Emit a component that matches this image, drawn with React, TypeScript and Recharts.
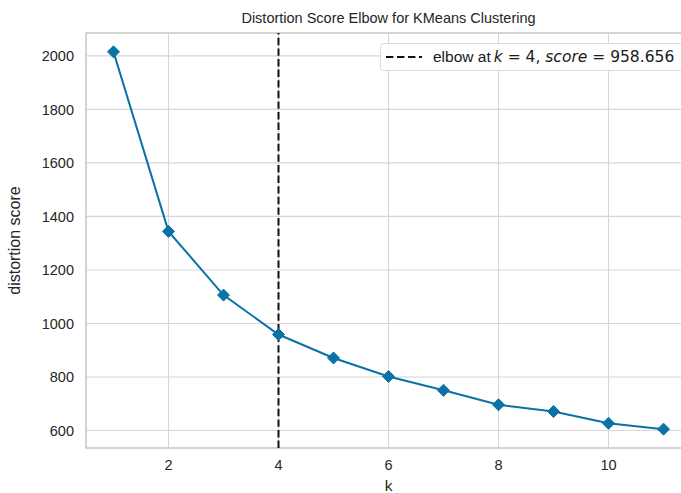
import { CartesianGrid, Line, LineChart, ReferenceArea, ReferenceLine, XAxis, YAxis } from "recharts";

const kValues = [1, 2, 3, 4, 5, 6, 7, 8, 9, 10, 11];
const distortion = [2015, 1344, 1106, 958.656, 871, 802, 750, 696, 671, 627, 605];
const xTicks = [2, 4, 6, 8, 10];
const yTicks = [600, 800, 1000, 1200, 1400, 1600, 1800, 2000];
const elbowK = 4;
const elbowScore = 958.656;

const chartData = kValues.map((k, i) => ({ k, score: distortion[i] }));

const blue = "#0a72a6";
const font = "'Liberation Sans', Arial, sans-serif";
const mathFont = "'DejaVu Sans', sans-serif";

const Diamond = (props: any) => {
  const { cx, cy } = props;
  if (cx == null || cy == null) return null;
  const r = 6;
  return (
    <polygon
      points={`${cx},${cy - r} ${cx + r},${cy} ${cx},${cy + r} ${cx - r},${cy}`}
      fill={blue}
      stroke={blue}
      strokeWidth={1}
    />
  );
};

const ElbowLegend = () => (
  <div
    style={{
      position: "absolute",
      top: 43,
      left: 380,
      display: "flex",
      alignItems: "center",
      background: "rgba(255,255,255,0.85)",
      border: "1px solid #dcdcdc",
      borderRadius: 3,
      height: 26,
      padding: "0 20px 0 4px",
      fontFamily: font,
      fontSize: 15.5,
      color: "#1a1a1a",
      whiteSpace: "nowrap",
    }}
  >
    <svg width={38} height={10} style={{ marginRight: 10 }}>
      <line x1={1} y1={5} x2={37} y2={5} stroke="#111" strokeWidth={2.2} strokeDasharray="7.4 3.6" />
    </svg>
    <span>elbow at </span>
    <span style={{ fontFamily: mathFont, marginLeft: 3 }}>
      <i>k</i> = {elbowK}, <i>score</i> = {elbowScore.toFixed(3)}
    </span>
  </div>
);

export default function App() {
  return (
    <div
      style={{
        position: "absolute",
        left: 0,
        top: 0,
        width: 681,
        height: 493,
        overflow: "hidden",
        background: "#fff",
      }}
    >
      <div
        style={{
          position: "absolute",
          top: 10,
          left: 86,
          width: 605,
          textAlign: "center",
          fontFamily: font,
          fontSize: 14.5,
          color: "#262626",
        }}
      >
        Distortion Score Elbow for KMeans Clustering
      </div>
      <LineChart
        width={700}
        height={493}
        data={chartData}
        margin={{ top: 33, right: 9, bottom: 0, left: 0 }}
        style={{ fontFamily: font, position: "absolute", top: 0, left: 0 }}
      >
        <CartesianGrid stroke="#d6d6d6" strokeWidth={1.1} />
        <ReferenceArea
          x1={0.5}
          x2={11.5}
          y1={534.5}
          y2={2085.5}
          fill="none"
          stroke="#cccccc"
          strokeWidth={1.5}
          ifOverflow="visible"
        />
        <XAxis
          dataKey="k"
          type="number"
          domain={[0.5, 11.5]}
          ticks={xTicks}
          allowDataOverflow
          axisLine={false}
          tickLine={false}
          tick={{ fontSize: 14.5, fill: "#262626" }}
          tickMargin={6}
          height={45}
          label={{ value: "k", position: "insideBottom", offset: 2, fontSize: 15.5, fill: "#262626" }}
        />
        <YAxis
          type="number"
          domain={[534.5, 2085.5]}
          ticks={yTicks}
          allowDataOverflow
          axisLine={false}
          tickLine={false}
          width={86}
          tick={{ fontSize: 14.5, fill: "#262626" }}
          tickMargin={6}
          label={{
            value: "distortion score",
            angle: -90,
            position: "insideLeft",
            offset: 14,
            style: { textAnchor: "middle" },
            fontSize: 16,
            fill: "#262626",
          }}
        />
        <ReferenceLine x={elbowK} stroke="#111" strokeWidth={2} strokeDasharray="7.4 3.2" />
        <Line
          type="linear"
          dataKey="score"
          stroke={blue}
          strokeWidth={2}
          dot={<Diamond />}
          activeDot={false}
          isAnimationActive={false}
        />
      </LineChart>
      <ElbowLegend />
    </div>
  );
}
